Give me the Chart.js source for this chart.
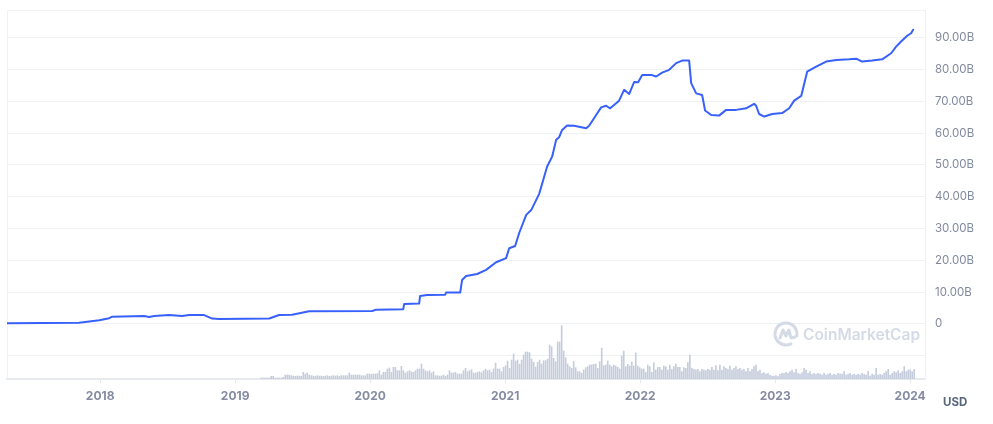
<!DOCTYPE html>
<html>
<head>
<meta charset="utf-8">
<script src="https://cdn.jsdelivr.net/npm/chart.js@4.4.0/dist/chart.umd.min.js"></script>
<style>
  html, body { margin: 0; padding: 0; background: #ffffff; }
  #wrap { width: 993px; height: 424px; position: relative; }
</style>
</head>
<body>
<div id="wrap"><canvas id="c" width="993" height="424"></canvas></div>
<script>
// ---- Data ----
// Market cap line: dates as decimal years, values in billions USD
const capYears = [
  2017.311, 2017.844, 2017.993, 2018.067, 2018.089, 2018.326, 2018.363, 2018.400, 2018.511, 2018.607,
  2018.659, 2018.770, 2018.830, 2018.881, 2019.252, 2019.326, 2019.422, 2019.548, 2020.015, 2020.044,
  2020.245, 2020.252, 2020.363, 2020.370, 2020.422, 2020.556, 2020.563, 2020.667, 2020.681, 2020.711,
  2020.793, 2020.859, 2020.933, 2021.007, 2021.030, 2021.074, 2021.104, 2021.156, 2021.193, 2021.252,
  2021.289, 2021.311, 2021.348, 2021.378, 2021.400, 2021.422, 2021.459, 2021.511, 2021.600, 2021.622,
  2021.674, 2021.711, 2021.748, 2021.778, 2021.844, 2021.881, 2021.919, 2021.956, 2021.985, 2022.015,
  2022.081, 2022.119, 2022.163, 2022.215, 2022.267, 2022.311, 2022.363, 2022.378, 2022.415, 2022.459,
  2022.481, 2022.526, 2022.585, 2022.637, 2022.711, 2022.785, 2022.844, 2022.859, 2022.881, 2022.919,
  2022.978, 2023.052, 2023.104, 2023.141, 2023.193, 2023.237, 2023.304, 2023.378, 2023.452, 2023.548,
  2023.600, 2023.644, 2023.719, 2023.793, 2023.859, 2023.896, 2023.933, 2023.978, 2024.007, 2024.022
];
const capValuesB = [
  0.2, 0.4, 1.2, 1.8, 2.3, 2.5, 2.2, 2.5, 2.8, 2.5,
  2.8, 2.8, 1.7, 1.6, 1.7, 2.8, 2.9, 4.0, 4.1, 4.5,
  4.6, 6.3, 6.4, 8.8, 9.1, 9.2, 9.9, 9.9, 13.8, 15.1,
  15.7, 17.0, 19.4, 20.7, 23.8, 24.5, 28.6, 34.3, 35.8, 40.9,
  46.3, 49.5, 52.6, 57.9, 58.7, 61.0, 62.4, 62.3, 61.5, 62.3,
  65.7, 68.1, 68.6, 67.8, 70.2, 73.6, 72.3, 76.1, 76.0, 78.3,
  78.3, 77.8, 79.0, 79.9, 82.0, 82.8, 82.8, 75.7, 72.5, 72.0,
  67.1, 65.7, 65.5, 67.3, 67.3, 67.8, 69.2, 68.6, 66.0, 65.2,
  66.0, 66.3, 67.8, 70.2, 71.7, 79.3, 80.9, 82.5, 83.0, 83.2,
  83.4, 82.5, 82.8, 83.2, 85.1, 87.2, 88.8, 90.6, 91.4, 92.5
];
// Trading volume bars (relative heights, estimated), one bar roughly every 5.4 days
const volumeStartYear = 2019.193;
const volumeEndYear = 2024.030;
const volumes = [
  3,3,3,3,3,8,8,3,3,3,3,5,12,12,12,10,9,8,9,9,
  8,20,15,18,12,10,9,8,10,9,9,8,9,10,8,9,10,9,10,8,
  10,10,10,10,18,12,12,12,12,12,10,10,10,15,15,14,15,15,16,25,
  12,20,20,30,33,20,35,35,25,25,38,25,18,22,25,22,20,25,30,30,
  45,30,25,22,25,18,22,10,10,9,9,12,8,12,25,18,18,20,15,15,
  15,25,32,22,25,28,18,18,
  20,22,19,25,30,25,27,20,30,48,30,30,22,35,40,54,32,57,75,54,
  57,44,57,72,81,81,79,60,50,36,50,57,45,55,55,60,102,97,62,52,
  111,111,160,84,64,45,37,32,52,34,22,22,17,27,34,37,42,42,44,45,
  32,52,93,40,42,54,42,37,42,39,35,30,69,84,37,44,39,51,39,78,
  39,34,30,30,20,42,37,20,49,27,35,35,27,39,37,27,42,29,37,45,
  35,35,22,34,32,49,72,32,29,
  27,29,22,29,27,25,29,27,35,27,40,25,42,27,37,32,29,39,27,32,
  37,29,32,27,29,22,32,22,29,37,42,22,27,17,19,15,17,12,9,9,
  10,7,14,17,17,20,17,22,27,19,29,17,14,19,32,27,17,22,14,17,
  14,17,15,12,17,12,15,17,12,14,12,17,15,15,22,12,15,17,12,14,
  12,14,12,17,14,12,22,9,15,12,32,12,14,12,17,22,29,12,17,22,
  19,25,17,22,37,22,27,27,22,29
];
const yearTicks = [2018, 2019, 2020, 2021, 2022, 2023, 2024];
const capTicksB = [-10, 0, 10, 20, 30, 40, 50, 60, 70, 80, 90];

// ---- Build datasets ----
const linePoints = capYears.map((x, i) => ({ x: x, y: capValuesB[i] }));
const volStep = (volumeEndYear - volumeStartYear) / (volumes.length - 1);
const volPoints = volumes.map((v, i) => ({ x: volumeStartYear + i * volStep, y: v }));

const GRID = '#eff2f5';
const TICK_GRAY = '#808a9d';

const framePlugin = {
  id: 'frame',
  beforeDatasetsDraw(chart) {
    const { ctx, chartArea: a } = chart;
    ctx.save();
    ctx.strokeStyle = GRID;
    ctx.lineWidth = 1;
    ctx.beginPath();
    ctx.moveTo(a.left + 0.5, a.bottom);
    ctx.lineTo(a.left + 0.5, a.top + 0.5);
    ctx.lineTo(a.right, a.top + 0.5);
    ctx.stroke();
    // watermark
    const cx = 786, cy = 334, r = 11;
    ctx.strokeStyle = '#d5dbe6';
    ctx.lineWidth = 3;
    ctx.lineCap = 'round';
    ctx.lineJoin = 'round';
    ctx.beginPath();
    ctx.arc(cx, cy, r, Math.PI * 0.35, Math.PI * 2.05);
    ctx.stroke();
    ctx.beginPath();
    ctx.moveTo(cx - 6, cy + 4);
    ctx.lineTo(cx - 3, cy - 4);
    ctx.lineTo(cx, cy + 2);
    ctx.lineTo(cx + 3, cy - 4);
    ctx.lineTo(cx + 5, cy + 4);
    ctx.lineTo(cx + 9, cy + 3);
    ctx.stroke();
    ctx.fillStyle = '#d5dbe6';
    ctx.font = '600 15.5px Inter, "Open Sans", sans-serif';
    ctx.textBaseline = 'middle';
    ctx.textAlign = 'left';
    ctx.fillText('CoinMarketCap', 803, 335);
    ctx.restore();
  },
  afterDraw(chart) {
    const { ctx } = chart;
    ctx.save();
    ctx.fillStyle = '#58667e';
    ctx.font = 'bold 11.5px Inter, sans-serif';
    ctx.textBaseline = 'middle';
    ctx.textAlign = 'left';
    ctx.fillText('USD', 943, 403);
    ctx.restore();
  }
};

new Chart(document.getElementById('c'), {
  data: {
    datasets: [
      {
        type: 'line',
        label: 'Market Cap',
        data: linePoints,
        yAxisID: 'y',
        borderColor: '#3861fb',
        borderWidth: 2,
        pointRadius: 0,
        tension: 0,
        borderJoinStyle: 'round',
        borderCapStyle: 'round',
        order: 0
      },
      {
        type: 'bar',
        label: 'Volume',
        data: volPoints,
        yAxisID: 'yv',
        backgroundColor: '#c5cddd',
        barThickness: 1,
        order: 1
      }
    ]
  },
  options: {
    responsive: false,
    animation: false,
    layout: { padding: { left: 7, top: 10, right: 0, bottom: 0 } },
    plugins: { legend: { display: false }, tooltip: { enabled: false } },
    scales: {
      x: {
        type: 'linear',
        min: 2017.31,
        max: 2024.11,
        offset: false,
        bounds: 'ticks',
        afterBuildTicks: (s) => { s.ticks = yearTicks.map(v => ({ value: v })); },
        afterFit: (s) => { s.height = 45; s.paddingLeft = 0; s.paddingRight = 0; },
        ticks: {
          color: '#858ca2',
          font: { family: 'Inter', size: 12, weight: 'bold' },
          padding: 6,
          maxRotation: 0,
          callback: (v) => String(v)
        },
        grid: { offset: false, drawOnChartArea: false, drawTicks: true, tickLength: 4, color: '#e3e6eb' },
        border: { display: true, color: '#e6e9ee', width: 2 }
      },
      y: {
        type: 'linear',
        position: 'right',
        min: -17.3,
        max: 98.7,
        afterBuildTicks: (s) => { s.ticks = capTicksB.map(v => ({ value: v })); },
        afterFit: (s) => { s.width = 68; s.paddingTop = 0; s.paddingBottom = 0; },
        ticks: {
          color: TICK_GRAY,
          font: { family: 'Inter', size: 11.5 },
          padding: 10,
          callback: (v) => v < 0 ? '' : (v === 0 ? '0' : v.toFixed(2) + 'B')
        },
        grid: { color: GRID, drawTicks: false },
        border: { display: true, color: GRID }
      },
      yv: {
        type: 'linear',
        display: false,
        min: 0,
        max: 1107
      }
    }
  },
  plugins: [framePlugin]
});
</script>
</body>
</html>
